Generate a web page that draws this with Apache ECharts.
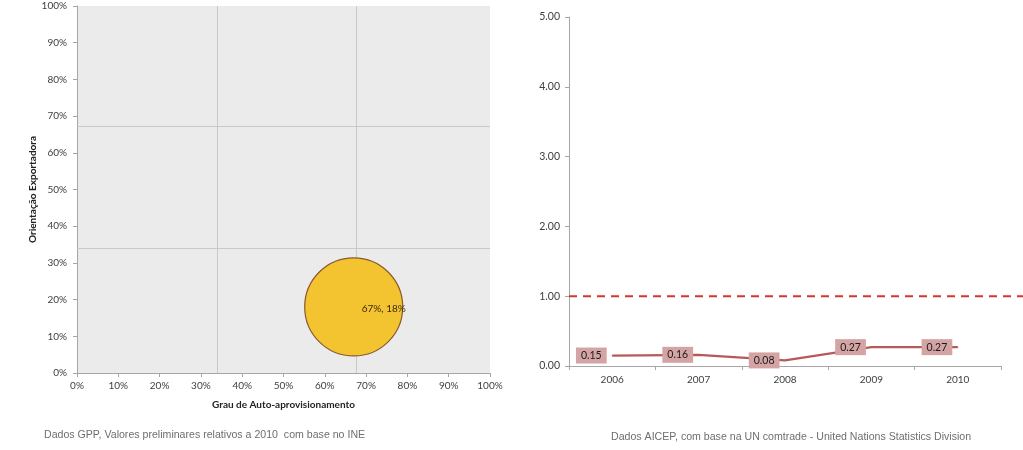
<!DOCTYPE html>
<html><head><meta charset="utf-8">
<script src="https://cdn.jsdelivr.net/npm/echarts@6/dist/echarts.min.js"></script>
<style>html,body{margin:0;padding:0;background:#fff}#c{width:1023px;height:450px}</style>
</head><body><div id="c"></div>
<script>
// Left chart: bubble
const bubblePoint = [67, 18];            // [Grau de Auto-aprovisionamento %, Orientação Exportadora %]
const bubbleLabel = '67%, 18%';
const quadrantX = [34, 67.5];
const quadrantY = [34, 67.3];
// Right chart: line
const years = ['2006','2007','2008','2009','2010'];
const ratio = [0.15, 0.16, 0.08, 0.27, 0.27];
const refLevel = 1.0;

const font = 'Lato, "Open Sans", sans-serif';
const axisCol = '#a6a6a6';
const txtCol = '#404040';

const chart = echarts.init(document.getElementById('c'), null, {renderer:'canvas'});
chart.setOption({
  animation:false,
  textStyle:{fontFamily:font},
  graphic:[
    {type:'text', left:44, top:430, style:{text:'Dados GPP, Valores preliminares relativos a 2010  com base no INE', fill:'#6e6e6e', font:'10.6px "Liberation Sans", Arial, sans-serif'}},
    {type:'text', left:611, top:432, style:{text:'Dados AICEP, com base na UN comtrade - United Nations Statistics Division', fill:'#6e6e6e', font:'10.6px "Liberation Sans", Arial, sans-serif'}}
  ],
  grid:[
    {left:77, top:6, width:413, height:367, show:true, backgroundColor:'#ebebeb', borderWidth:0},
    {left:569, top:17, width:432, height:349},
    {left:569, top:17, right:0, height:349}
  ],
  xAxis:[
    {gridIndex:0, type:'value', min:0, max:100, interval:10,
     name:'Grau de Auto-aprovisionamento', nameLocation:'middle', nameGap:27,
     nameTextStyle:{fontWeight:'bold', fontSize:10, color:'#222', fontFamily:font},
     axisLine:{lineStyle:{color:axisCol}}, axisTick:{show:true, length:4, lineStyle:{color:axisCol}},
     splitLine:{show:false},
     axisLabel:{formatter:'{value}%', fontSize:10, color:txtCol, margin:8, fontFamily:font}},
    {gridIndex:1, type:'category', data:years, boundaryGap:true,
     axisLine:{lineStyle:{color:axisCol}}, axisTick:{show:true, length:4, lineStyle:{color:axisCol}},
     axisLabel:{fontSize:10, color:txtCol, margin:9, fontFamily:font}},
    {gridIndex:2, type:'value', min:0, max:1, show:false}
  ],
  yAxis:[
    {gridIndex:0, type:'value', min:0, max:100, interval:10,
     name:'Orientação Exportadora', nameLocation:'middle', nameGap:38,
     nameTextStyle:{fontWeight:'bold', fontSize:10, color:'#222', fontFamily:font},
     axisLine:{show:true, lineStyle:{color:axisCol}}, axisTick:{show:true, length:4, lineStyle:{color:axisCol}},
     splitLine:{show:false},
     axisLabel:{formatter:'{value}%', fontSize:10, color:txtCol, margin:10, fontFamily:font}},
    {gridIndex:1, type:'value', min:0, max:5, interval:1,
     axisLine:{show:true, lineStyle:{color:axisCol}}, axisTick:{show:true, length:4, lineStyle:{color:axisCol}},
     splitLine:{show:false},
     axisLabel:{formatter:v=>v.toFixed(2), fontSize:10.5, color:txtCol, margin:9, fontFamily:font}},
    {gridIndex:2, type:'value', min:0, max:5, show:false}
  ],
  series:[
    {type:'scatter', xAxisIndex:0, yAxisIndex:0, data:[bubblePoint], symbolSize:98,
     itemStyle:{color:'#f4c430', borderColor:'#8a5a2a', borderWidth:1.2, opacity:1},
     label:{show:true, formatter:bubbleLabel, position:'inside', offset:[30,2], fontSize:10, color:'#3a2a10', fontFamily:font},
     markLine:{silent:true, symbol:'none', label:{show:false}, z:1,
       lineStyle:{color:'#c9c9c9', width:1, type:'solid'},
       data:[{xAxis:quadrantX[0]},{xAxis:quadrantX[1]},{yAxis:quadrantY[0]},{yAxis:quadrantY[1]}]},
     z:3},
    {type:'line', xAxisIndex:2, yAxisIndex:2, data:[[0,refLevel],[1,refLevel]], symbol:'none',
     lineStyle:{color:'#d0382e', width:2, type:[8,6]}},
    {type:'line', xAxisIndex:1, yAxisIndex:1, data:ratio, symbol:'circle', symbolSize:1, showSymbol:true,
     itemStyle:{color:'#b65a58'},
     lineStyle:{color:'#b65a58', width:2.2},
     labelLayout:{hideOverlap:false},
     label:{show:true, position:'left', distance:5, formatter:p=>p.value.toFixed(2),
       backgroundColor:'#d4a4a4', color:'#1a1a1a', padding:[3,5,2,5], fontSize:10.5, fontFamily:font}}
  ]
});
</script></body></html>
